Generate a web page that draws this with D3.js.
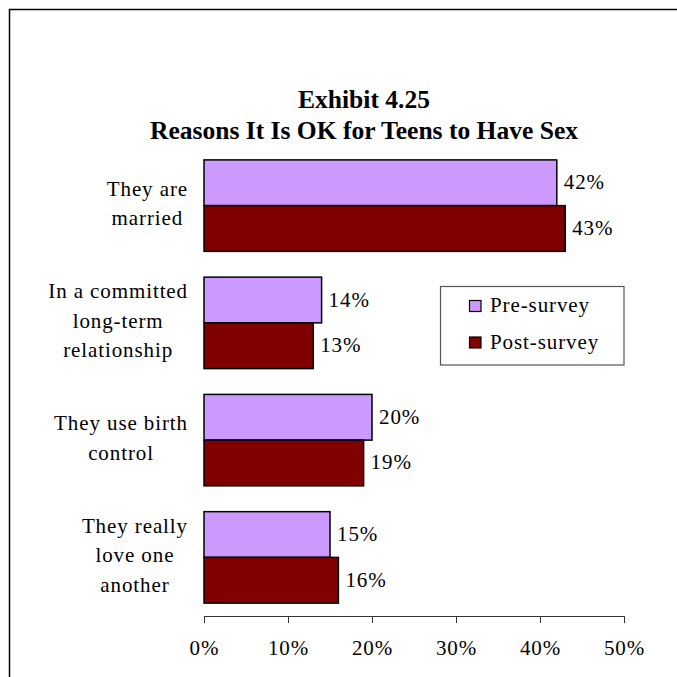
<!DOCTYPE html>
<html>
<head>
<meta charset="utf-8">
<script src="https://cdn.jsdelivr.net/npm/d3@7"></script>
<style>
  html, body { margin: 0; padding: 0; background: #fff; }
  svg { display: block; font-family: "Liberation Serif", "Times New Roman", serif; }
</style>
</head>
<body>
<svg id="chart" width="677" height="677"></svg>
<script>
// Survey reasons (category labels wrapped as drawn on the axis)
const categories = ["They are married", "In a committed long-term relationship", "They use birth control", "They really love one another"];
const categoryLines = [
  ["They are", "married"],
  ["In a committed", "long-term", "relationship"],
  ["They use birth", "control"],
  ["They really", "love one", "another"]
];
const seriesNames = ["Pre-survey", "Post-survey"];
const preSurvey = [0.42, 0.14, 0.20, 0.15];
const postSurvey = [0.43, 0.13, 0.19, 0.16];
const tickValues = [0, 0.1, 0.2, 0.3, 0.4, 0.5];
const titleLines = ["Exhibit 4.25", "Reasons It Is OK for Teens to Have Sex"];

const colors = { "Pre-survey": "#CC99FF", "Post-survey": "#800000" };
const seriesValues = { "Pre-survey": preSurvey, "Post-survey": postSurvey };

const FONT = 21;
const SPACING = 0.9;

const svg = d3.select("#chart");

// outer frame (runs past the right and bottom edges)
svg.append("rect")
  .attr("x", 9.5).attr("y", 9.5)
  .attr("width", 720).attr("height", 720)
  .attr("fill", "none").attr("stroke", "#000").attr("stroke-width", 1.5);

// title, two centred bold lines
const titleWidths = [132, 428];
svg.selectAll("text.title")
  .data(titleLines)
  .join("text")
  .attr("class", "title")
  .attr("x", (d, i) => 364 - titleWidths[i] / 2)
  .attr("y", (d, i) => 108 + i * 31)
  .attr("textLength", (d, i) => titleWidths[i])
  .attr("lengthAdjust", "spacingAndGlyphs")
  .attr("font-size", 25)
  .attr("font-weight", "bold")
  .attr("fill", "#000")
  .text(d => d);

const x = d3.scaleLinear().domain([0, 0.5]).range([204, 624]);
const y = d3.scaleBand().domain(categories).range([147, 616]).paddingInner(0.22).paddingOuter(0.11);
const ySub = d3.scaleBand().domain(seriesNames).range([0, y.bandwidth()]);

const rows = categories.flatMap((c, i) => seriesNames.map(s => ({ cat: c, series: s, value: seriesValues[s][i] })));

// bars
svg.append("g").selectAll("rect")
  .data(rows)
  .join("rect")
  .attr("x", x(0))
  .attr("y", d => y(d.cat) + ySub(d.series))
  .attr("width", d => x(d.value) - x(0))
  .attr("height", ySub.bandwidth())
  .attr("fill", d => colors[d.series])
  .attr("stroke", "#000")
  .attr("stroke-width", 1.5);

// value labels
const pct = d3.format(".0%");
svg.append("g").selectAll("text")
  .data(rows)
  .join("text")
  .attr("x", d => x(d.value) + 7)
  .attr("y", d => y(d.cat) + ySub(d.series) + ySub.bandwidth() / 2 + 6.5)
  .attr("font-size", FONT)
  .attr("letter-spacing", SPACING)
  .attr("fill", "#000")
  .text(d => pct(d.value));

// x axis
const xAxis = svg.append("g")
  .attr("transform", "translate(0,616)")
  .call(d3.axisBottom(x).tickValues(tickValues).tickFormat(pct).tickSize(7).tickPadding(17));
xAxis.select(".domain").attr("stroke", "#333").attr("stroke-width", 1);
xAxis.selectAll(".tick line").attr("stroke", "#333").attr("stroke-width", 1);
xAxis.selectAll(".tick text")
  .attr("font-family", "Liberation Serif, Times New Roman, serif")
  .attr("font-size", FONT)
  .attr("letter-spacing", SPACING)
  .attr("fill", "#000");

// category labels: each block centred on itself, right edge against the plot
const labelRight = 188;
const lineGap = 29.5;
categories.forEach((c, i) => {
  const lines = categoryLines[i];
  const g = svg.append("g");
  const cy = y(c) + y.bandwidth() / 2;
  const texts = g.selectAll("text")
    .data(lines)
    .join("text")
    .attr("font-size", FONT)
    .attr("letter-spacing", SPACING)
    .attr("fill", "#000")
    .attr("text-anchor", "middle")
    .attr("y", (d, j) => cy + 5 + (j - (lines.length - 1) / 2) * lineGap)
    .text(d => d);
  let maxW = 0;
  texts.each(function () { maxW = Math.max(maxW, this.getComputedTextLength()); });
  texts.attr("x", labelRight - maxW / 2);
});

// legend
const legend = svg.append("g");
legend.append("rect")
  .attr("x", 440.5).attr("y", 286.5)
  .attr("width", 183.5).attr("height", 78.5)
  .attr("fill", "#fff").attr("stroke", "#555").attr("stroke-width", 1.2);
seriesNames.forEach((s, i) => {
  const ly = 312 + i * 36.5;
  legend.append("rect")
    .attr("x", 469.5).attr("y", ly - 11.5)
    .attr("width", 11.5).attr("height", 11)
    .attr("fill", colors[s]).attr("stroke", "#000").attr("stroke-width", 1.2);
  legend.append("text")
    .attr("x", 490).attr("y", ly)
    .attr("font-size", FONT)
    .attr("letter-spacing", SPACING)
    .attr("fill", "#000")
    .text(s);
});
</script>
</body>
</html>
